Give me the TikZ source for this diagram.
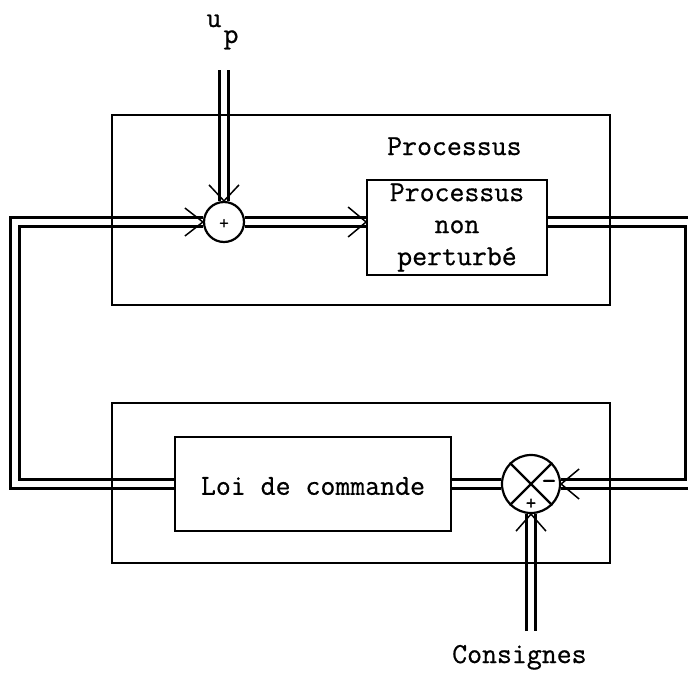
\documentclass[tikz,border=0pt]{standalone}
\usepackage{fontspec}
\newfontfamily\twfont{Latin Modern Mono}[FakeBold=0.7]
\usetikzlibrary{backgrounds}
\begin{document}
\begin{tikzpicture}[x=1pt,y=-1pt,
  box/.style={draw, line width=1.8pt, inner sep=0pt},
  sumnode/.style={draw, circle, line width=2.2pt, inner sep=0pt},
  dbl/.style={line width=2.8pt, double, double distance=6.3pt},
  barb/.style={line width=1.5pt},
  lbl/.style={font=\fontsize{29}{32}\selectfont\twfont, inner sep=0pt},
  sign/.style={font=\twfont, inner sep=0pt}]
\useasboundingbox (0,0) rectangle (688,673);

% boxes
\node[box, minimum width=498pt, minimum height=190pt] (proc) at (361,210) {};
\node[lbl, anchor=base west] (proctitle) at (387,155) {Processus};
\node[box, lbl, align=center, minimum width=180pt, minimum height=95pt] (pnp) at (457,227.5) {Processus\\non\\perturbé};
\node[box, minimum width=498pt, minimum height=160pt] (ctrl) at (361,483) {};
\node[box, minimum width=276pt, minimum height=94pt] (loi) at (313,484) {};
\node[lbl] (loitext) at (313,486) {Loi de commande};

% summing junctions
\node[sumnode, minimum size=40pt] (s1) at (224,222) {};
\node[sign, font=\fontsize{19}{19}\selectfont\twfont] (s1plus) at (224,224) {+};
\node[sumnode, minimum size=58pt] (cmp) at (531,484) {};
\draw[line width=2.2pt] (cmp.north west) -- (cmp.south east);
\draw[line width=2.2pt] (cmp.north east) -- (cmp.south west);
\node[sign, font=\fontsize{30}{30}\selectfont\twfont] (cmpminus) at (549,485) {-};
\node[sign, font=\fontsize{21}{21}\selectfont\twfont] (cmpplus) at (531,504) {+};

% labels
\node[lbl, anchor=base] (u) at (214,27) {u};
\node[lbl, anchor=base] (p) at (231,43) {p};
\node[lbl, anchor=base west] (cons) at (452,663) {Consignes};

% free ends and corners
\coordinate (upin) at (224,70);
\coordinate (cin) at (531,631);
\coordinate (cTL) at (15,222);
\coordinate (cBL) at (15,484);
\coordinate (cTR) at (689.75,222);
\coordinate (cBR) at (689.75,484);
\coordinate (pin) at (s1 -| pnp.west);
\coordinate (pout) at (s1 -| pnp.east);

% double lines
\begin{scope}[on background layer]
\draw[dbl] (upin) -- (s1.north);
\draw[dbl] (s1.east) -- (pin);
\draw[dbl] (pout) -- (cTR) -- (cBR) -- (cmp.east);
\draw[dbl] (cmp.west) -- (loi.east);
\draw[dbl] (loi.west) -- (cBL) -- (cTL) -- (s1.west);
\draw[dbl] (cin) -- (cmp.south);
\end{scope}

% barbs
\draw[barb] ([shift={(-15,-16)}]s1.north) -- (s1.north) -- ([shift={(15,-16)}]s1.north);
\draw[barb] ([shift={(-18,-14)}]s1.west) -- (s1.west) -- ([shift={(-18,14)}]s1.west);
\draw[barb] ([shift={(-18,-15)}]pin) -- (pin) -- ([shift={(-18,15)}]pin);
\draw[barb] ([shift={(18,-15)}]cmp.east) -- (cmp.east) -- ([shift={(18,15)}]cmp.east);
\draw[barb] ([shift={(-15,17)}]cmp.south) -- (cmp.south) -- ([shift={(15,17)}]cmp.south);
\end{tikzpicture}
\end{document}
